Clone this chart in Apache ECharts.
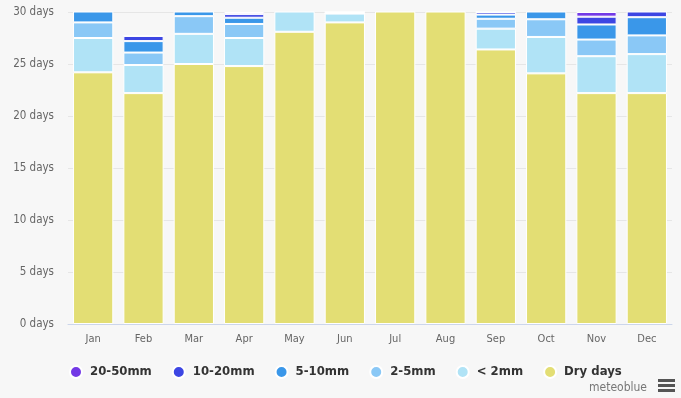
<!DOCTYPE html>
<html>
<head>
<meta charset="utf-8" />
<title>Precipitation days</title>
<style>
  html, body { margin: 0; padding: 0; background: #f7f7f7; }
  #chart { width: 681px; height: 398px; }
</style>
</head>
<body>
<div id="chart"></div>
<script src="https://cdn.jsdelivr.net/npm/echarts@6/dist/echarts.min.js"></script>
<script type="text/javascript">
// months on the x axis
var months = ['Jan', 'Feb', 'Mar', 'Apr', 'May', 'Jun', 'Jul', 'Aug', 'Sep', 'Oct', 'Nov', 'Dec'];
var yTicks = [0, 5, 10, 15, 20, 25, 30];

// days per month in each precipitation class
var dryDays  = [24.2, 22.2, 25.0, 24.8, 28.1, 29.0, 31.0, 31.0, 26.4, 24.1, 22.2, 22.2];
var lt2mm    = [3.3, 2.7, 2.9, 2.7, 2.5, 0.85, 0, 0, 2.0, 3.5, 3.55, 3.75];
var mm2to5   = [1.5, 1.2, 1.7, 1.35, 0.4, 0, 0, 0, 0.95, 1.7, 1.6, 1.8];
var mm5to10  = [2.0, 1.1, 1.4, 0.6, 0, 0, 0, 0, 0.4, 1.7, 1.45, 1.75];
var mm10to20 = [0, 0.5, 0, 0.35, 0, 0.15, 0, 0, 0.25, 0, 0.75, 1.5];
var mm20to50 = [0, 0, 0, 0.2, 0, 0, 0, 0, 0, 0, 0.45, 0];

var font = 'DejaVu Sans Condensed';
var chart = echarts.init(document.getElementById('chart'));

function layer(name, data, color) {
	return {
		name: name,
		type: 'bar',
		stack: 'days',
		data: data,
		barCategoryGap: '20%',
		itemStyle: { color: color, borderColor: '#ffffff', borderWidth: 1 }
	};
}

option = {
	backgroundColor: '#f7f7f7',
	animation: false,
	grid: { left: 68, right: 9, top: 12, bottom: 74 },
	legend: {
		bottom: 14,
		left: 64,
		icon: 'circle',
		itemWidth: 12,
		itemHeight: 12,
		itemGap: 20,
		data: ['20-50mm', '10-20mm', '5-10mm', '2-5mm', '< 2mm', 'Dry days'],
		textStyle: { fontFamily: font, fontSize: 13, fontWeight: 'bold', color: '#333333', padding: [0, 0, 0, 3] }
	},
	xAxis: {
		type: 'category',
		data: months,
		axisTick: { show: false },
		axisLine: { lineStyle: { color: '#ccd6eb' } },
		axisLabel: { fontFamily: font, fontSize: 11, color: '#666666', margin: 10 }
	},
	yAxis: {
		type: 'value',
		min: 0,
		max: 30,
		interval: 5,
		axisLabel: {
			fontFamily: font, fontSize: 11.5, color: '#666666', margin: 14,
			formatter: function (v) { return yTicks.indexOf(v) >= 0 ? v + ' days' : ''; }
		},
		splitLine: { lineStyle: { color: '#e6e6e6' } }
	},
	series: [
		layer('Dry days', dryDays, '#e3de74'),
		layer('< 2mm', lt2mm, '#b0e3f6'),
		layer('2-5mm', mm2to5, '#8ac8f6'),
		layer('5-10mm', mm5to10, '#3a97e9'),
		layer('10-20mm', mm10to20, '#3d46e3'),
		layer('20-50mm', mm20to50, '#7339e6')
	],
	graphic: [
		{ type: 'text', right: 34, bottom: 4,
		  style: { text: 'meteoblue', fill: '#777777', fontFamily: font, fontSize: 12 } },
		{ type: 'group', right: 6, bottom: 6, children: [
			{ type: 'rect', shape: { x: 0, y: 0, width: 17, height: 3 }, style: { fill: '#555555' } },
			{ type: 'rect', shape: { x: 0, y: 5, width: 17, height: 3 }, style: { fill: '#555555' } },
			{ type: 'rect', shape: { x: 0, y: 10, width: 17, height: 3 }, style: { fill: '#555555' } }
		] }
	]
};
chart.setOption(option);
</script>
</body>
</html>
